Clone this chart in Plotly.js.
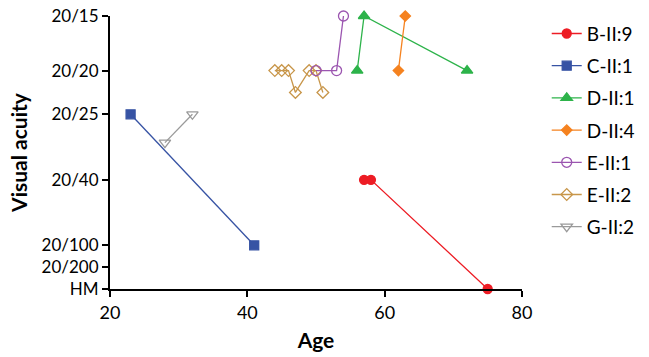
<!DOCTYPE html>
<html>
<head>
<meta charset="utf-8">
<script src="https://cdn.plot.ly/plotly-3.0.1.min.js"></script>
<style>html,body{margin:0;padding:0;background:#fff;}</style>
</head>
<body>
<div id="chart" style="width:649px;height:357px;"></div>
<script>
const yTickLabels = ['HM', '20/200', '20/100', '20/40', '20/25', '20/20', '20/15'];
const yTickVals   = [0, 1, 2, 5, 8, 10, 12.5];

const seriesNames = ['B-II:9', 'C-II:1', 'D-II:1', 'D-II:4', 'E-II:1', 'E-II:2', 'G-II:2'];

const ageB = [57, 58, 75];           const vaB = [5, 5, 0];
const ageC = [23, 41];               const vaC = [8, 2];
const ageD1 = [56, 57, 72];          const vaD1 = [10, 12.5, 10];
const ageD4 = [62, 63];              const vaD4 = [10, 12.5];
const ageE1 = [50, 53, 54];          const vaE1 = [10, 10, 12.5];
const ageE2 = [44, 45, 46, 47, 49, 50, 51]; const vaE2 = [10, 10, 10, 9, 10, 10, 9];
const ageG = [28, 32];               const vaG = [6.7, 8];

function tr(name, x, y, color, symbol, size, rank) {
  return {
    type: 'scatter', mode: 'lines+markers', name: name, x: x, y: y,
    cliponaxis: false, legendrank: rank, legendgroup: name,
    line: {color: color, width: 1.3},
    marker: {color: color, symbol: symbol, size: size,
             line: {color: color, width: 1.3}}
  };
}

const traces = [
  tr(seriesNames[0], ageB, vaB, '#ed1c24', 'circle', 9, 1),
  tr(seriesNames[1], ageC, vaC, '#3753a4', 'square', 9, 2),
  tr(seriesNames[2], ageD1, vaD1, '#2db34a', 'triangle-up', 10, 3),
  tr(seriesNames[3], ageD4, vaD4, '#f5821f', 'diamond', 8, 4),
  tr(seriesNames[5], ageE2, vaE2, '#c8964a', 'diamond-open', 9, 6),
  tr(seriesNames[4], ageE1, vaE1, '#9b55b0', 'circle-open', 10, 5),
  tr(seriesNames[6], ageG, vaG, '#9a9a9a', 'triangle-down-open', 10, 7)
];

const layout = {
  width: 649, height: 357,
  margin: {l: 110, r: 127, t: 16, b: 68, autoexpand: false},
  paper_bgcolor: '#fff', plot_bgcolor: '#fff',
  font: {family: 'Lato, "Open Sans", sans-serif', color: '#000', size: 16},
  showlegend: true,
  legend: {x: 1.06, y: 1.005, xanchor: 'left', yanchor: 'top', maxheight: 330,
           font: {size: 19, color: '#000'}, tracegroupgap: 4.5, itemwidth: 30,
           bgcolor: 'rgba(0,0,0,0)'},
  xaxis: {
    range: [20, 80], tickvals: [20, 40, 60, 80], ticktext: ['20', '40', '60', '80'],
    showgrid: false, zeroline: false, showline: true, linecolor: '#000', linewidth: 2,
    ticks: 'outside', ticklen: 6, tickwidth: 2, tickcolor: '#000',
    tickfont: {size: 18},
    title: {text: '<b>Age</b>', font: {size: 21}, standoff: 12}
  },
  yaxis: {
    range: [0, 12.5], tickvals: yTickVals, ticktext: yTickLabels,
    showgrid: false, zeroline: false, showline: true, linecolor: '#000', linewidth: 2,
    ticks: 'outside', ticklen: 6, tickwidth: 2, tickcolor: '#000',
    tickfont: {size: 17},
    title: {text: '<b>Visual acuity</b>', font: {size: 21}, standoff: 8}
  }
};

Plotly.newPlot('chart', traces, layout, {displayModeBar: false, staticPlot: true});
</script>
</body>
</html>
